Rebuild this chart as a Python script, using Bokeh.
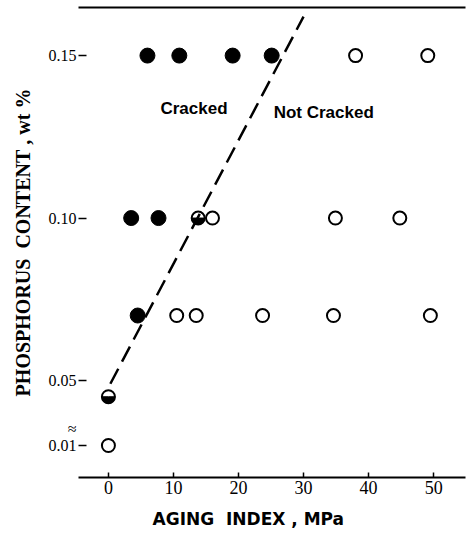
import numpy as np
from bokeh.plotting import figure
from bokeh.models import (LinearAxis, FixedTicker, CustomJSTickFormatter,
                          ColumnDataSource, Range1d)
from bokeh.core.properties import value
from bokeh.embed import file_html
from bokeh.resources import INLINE

# ---- data ----
cracked_x = [6.0, 10.9, 19.1, 25.1, 3.5, 7.7, 4.5]
cracked_y = [0.15, 0.15, 0.15, 0.15, 0.10, 0.10, 0.07]
not_cracked_x = [38.0, 49.1, 16.0, 34.9, 44.8, 10.5, 13.5, 23.7, 34.6, 49.5, 0.0]
not_cracked_y = [0.15, 0.15, 0.10, 0.10, 0.10, 0.07, 0.07, 0.07, 0.07, 0.07, 0.01]
border_x = [13.8, 0.0]
border_y = [0.10, 0.045]
boundary_x = [0.3, 30.0]
boundary_y = [0.049, 0.162]
region_labels = ["Cracked", "Not Cracked"]
region_x = [8.0, 25.4]
region_y = [0.1337, 0.1325]
x_ticks = [0, 10, 20, 30, 40, 50]
y_ticks = [0.01, 0.05, 0.10, 0.15]
break_mark_y = 0.0352   # position of the "≈" axis-break sign (plot coords)

NB = "\u00a0"


def broken(y):
    # axis break below 0.04 (compressed scale)
    y = np.asarray(y, dtype=float)
    return np.where(y >= 0.04, y, 0.04 - (0.04 - y) / 3.0)


p = figure(width=467, height=539,
           x_range=Range1d(-4.6, 54.9), y_range=Range1d(0.02015, 0.1648),
           output_backend="svg", toolbar_location=None,
           min_border_left=78, min_border_right=2, min_border_top=7,
           min_border_bottom=62, background_fill_color="white",
           border_fill_color="white")
p.outline_line_color = None
p.xgrid.visible = False
p.ygrid.visible = False

# boundary line
p.line(boundary_x, list(broken(boundary_y)), line_color="black", line_width=2.5,
       line_dash="17 8")

# markers
p.scatter(cracked_x, list(broken(cracked_y)), size=15, marker="circle",
          fill_color="black", line_color="black")
p.scatter(not_cracked_x, list(broken(not_cracked_y)), size=13, marker="circle",
          fill_color="white", line_color="black", line_width=2)
p.wedge(border_x, list(broken(border_y)), radius=6.5, radius_units="screen",
        start_angle=np.pi, end_angle=2 * np.pi, fill_color="black", line_color="black")
p.scatter(border_x, list(broken(border_y)), size=13, marker="circle",
          fill_color=None, line_color="black", line_width=2)

# region labels
src = ColumnDataSource(dict(x=region_x, y=list(broken(region_y)), t=region_labels))
p.text(x="x", y="y", text="t", source=src, text_font=value("Liberation Sans"),
       text_font_style="bold", text_font_size="17px", text_baseline="middle",
       text_align="left", text_color="black")

# x axis
xa = p.xaxis[0]
xa.ticker = FixedTicker(ticks=x_ticks)
xa.minor_tick_line_color = None
xa.major_tick_in = 5
xa.major_tick_out = 0
xa.major_tick_line_width = 1.5
xa.axis_line_width = 2
xa.major_label_text_font = "Liberation Serif"
xa.major_label_text_font_size = "18px"
xa.major_label_text_color = "black"
xa.major_label_standoff = 3
xa.axis_label = "AGING" + NB * 2 + "INDEX" + NB + "," + NB + "MPa" + NB * 8
xa.axis_label_text_font = "DejaVu Sans"
xa.axis_label_text_font_style = "bold"
xa.axis_label_text_font_size = "17px"
xa.axis_label_text_color = "black"
xa.axis_label_standoff = 12

# y axis: labelled major ticks (incl. break sign), tick marks drawn as minor ticks
tick_pos = [float(v) for v in np.round(broken(y_ticks), 6)]
ya = p.yaxis[0]
ya.ticker = FixedTicker(ticks=sorted(tick_pos + [break_mark_y]), minor_ticks=tick_pos)
ya.formatter = CustomJSTickFormatter(code="""
if (Math.abs(tick - 0.0352) < 1e-6) return '\u2248';
return tick < 0.04 ? '0.01' : tick.toFixed(2);
""")
ya.axis_line_color = None
ya.major_tick_line_color = None
ya.major_tick_in = 0
ya.major_tick_out = 0
ya.minor_tick_line_color = "black"
ya.minor_tick_line_width = 1.5
ya.minor_tick_in = 8
ya.minor_tick_out = 0
ya.major_label_text_font = "Liberation Serif"
ya.major_label_text_font_size = "16px"
ya.major_label_text_color = "black"
ya.major_label_standoff = 2
ya.axis_label = "PHOSPHORUS" + NB * 2 + "CONTENT" + NB + "," + NB + "wt" + NB + "%"
ya.axis_label_text_font = "Liberation Serif"
ya.axis_label_text_font_style = "bold"
ya.axis_label_text_font_size = "20px"
ya.axis_label_text_color = "black"
ya.axis_label_standoff = 12

# top rule
top = LinearAxis(ticker=FixedTicker(ticks=[]), axis_line_width=2,
                 major_tick_line_color=None, minor_tick_line_color=None)
p.add_layout(top, "above")

open("out.html", "w").write(file_html(p, INLINE))
